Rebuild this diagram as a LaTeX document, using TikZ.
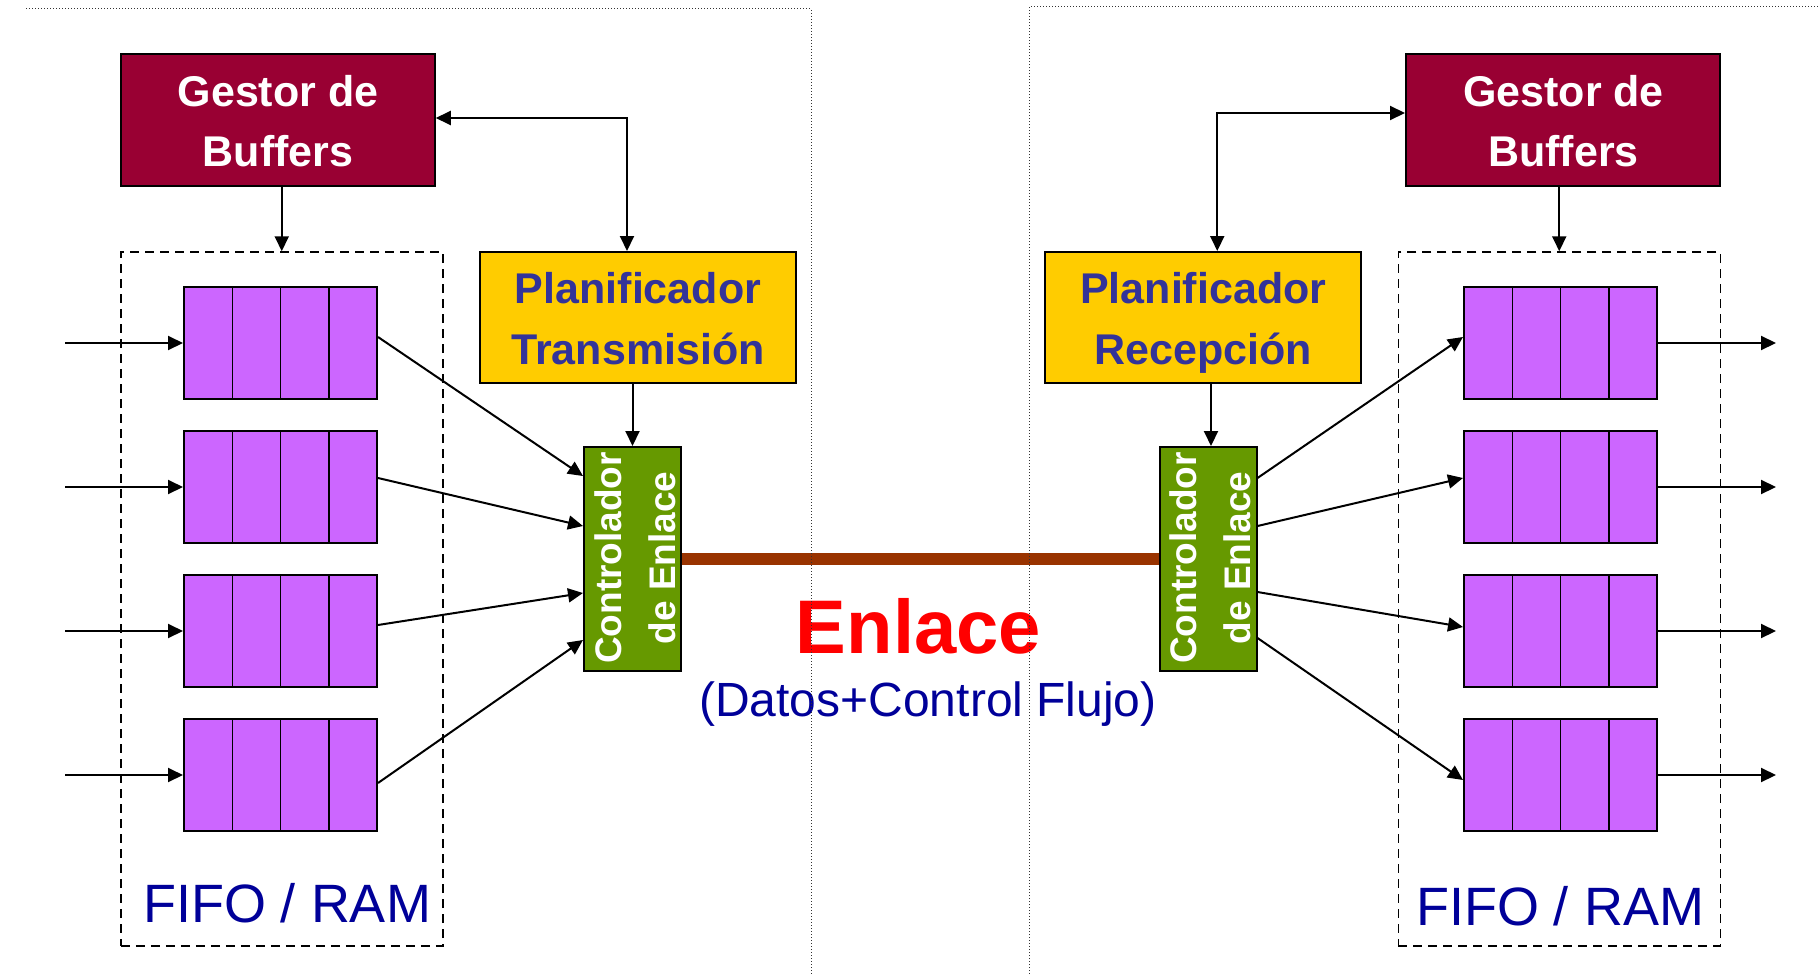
\documentclass[tikz,border=0pt]{standalone}
\usepackage{fontspec}
\setmainfont{Liberation Sans}
\usetikzlibrary{arrows.meta,calc}
\definecolor{gestorc}{HTML}{990033}
\definecolor{planc}{HTML}{FFCC00}
\definecolor{plantext}{HTML}{333399}
\definecolor{queuec}{HTML}{CC66FF}
\definecolor{ctrlc}{HTML}{669900}
\definecolor{linkc}{HTML}{993300}
\definecolor{navyc}{HTML}{000099}
\definecolor{enlacec}{HTML}{FF0000}
\newcommand\myfs[2]{\fontsize{#1}{#2}\selectfont}
\begin{document}
\begin{tikzpicture}[x=1pt,y=-1pt,
  box/.style={draw, line width=2pt, inner sep=0pt},
  gestor/.style={box, fill=gestorc, minimum width=314pt, minimum height=132pt},
  plan/.style={box, fill=planc, minimum width=316pt, minimum height=131pt},
  ctrl/.style={box, fill=ctrlc, minimum width=97pt, minimum height=224pt},
  memo/.style={draw, line width=1.5pt, dash pattern=on 9pt off 6pt, minimum width=322pt, minimum height=694pt, inner sep=0pt},
  queue/.style={box, fill=queuec, minimum width=193pt, minimum height=112pt,
    path picture={\foreach \f in {0.25,0.5,0.75}{\draw[line width=1.5pt] ($(path picture bounding box.north west)!\f!(path picture bounding box.north east)$) -- ($(path picture bounding box.south west)!\f!(path picture bounding box.south east)$);}}},
  arr/.style={line width=2pt, -{Triangle[length=15pt,width=14pt]}},
  biarr/.style={line width=2pt, {Triangle[length=15pt,width=14pt]}-{Triangle[length=15pt,width=14pt]}},
  gtext/.style={text=white, font=\bfseries\myfs{43}{60}, anchor=base, inner sep=0pt},
  ptext/.style={text=plantext, font=\bfseries\myfs{43}{60}, anchor=base, inner sep=0pt},
  ctext/.style={text=white, font=\bfseries\myfs{37}{44}, anchor=base, rotate=90, inner sep=0pt},
  fifotext/.style={text=navyc, font=\myfs{54}{60}, anchor=base, inner sep=0pt},
  linkline/.style={draw=linkc, line width=12.6pt},
  dotline/.style={line width=1pt, dash pattern=on 1pt off 2pt, draw=black!80}
]
\useasboundingbox (0,0) rectangle (1820,974);

% ---------- left side ----------
\node[gestor] (gL) at (277.75,120) {};
\node[gtext] (gLt1) at (278,106.7) {Gestor de};
\node[gtext] (gLt2) at (278,166.7) {Buffers};

\node[plan] (pL) at (638,317.5) {};
\node[ptext] (pLt1) at (638,303.3) {Planificador};
\node[ptext] (pLt2) at (638,364.3) {Transmisión};

\node[memo] (dL) at (281.75,599) {};
\node[fifotext] (fL) at (287,922) {FIFO / RAM};

\node[queue] (qL1) at (280.5,343) {};
\node[queue] (qL2) at (280.5,487) {};
\node[queue] (qL3) at (280.5,631) {};
\node[queue] (qL4) at (280.5,775) {};

\node[ctrl] (cL) at (632.5,559) {};
\node[ctext] (cLt1) at (621.7,558) {Controlador};
\node[ctext] (cLt2) at (675,558) {de Enlace};

% ---------- right side ----------
\node[gestor] (gR) at (1563,120) {};
\node[gtext] (gRt1) at (1563.5,106.7) {Gestor de};
\node[gtext] (gRt2) at (1563.5,166.7) {Buffers};

\node[plan] (pR) at (1203.25,317.5) {};
\node[ptext] (pRt1) at (1203.25,303.3) {Planificador};
\node[ptext] (pRt2) at (1203.25,364.3) {Recepción};

\node[memo] (dR) at (1559.25,599) {};
\node[fifotext] (fR) at (1560,925) {FIFO / RAM};

\node[queue] (qR1) at (1560.5,343) {};
\node[queue] (qR2) at (1560.5,487) {};
\node[queue] (qR3) at (1560.5,631) {};
\node[queue] (qR4) at (1560.5,775) {};

\node[ctrl] (cR) at (1208,559) {};
\node[ctext] (cRt1) at (1196.7,558) {Controlador};
\node[ctext] (cRt2) at (1250,558) {de Enlace};

% ---------- link ----------
\draw[linkline] (cL.east) -- (cR.west);
\node[text=enlacec, font=\bfseries\myfs{76}{80}, anchor=base, inner sep=0pt] (enl) at (918.5,653.3) {Enlace};
\node[text=navyc, font=\myfs{48}{52}, anchor=base, inner sep=0pt] (dat) at (928,716.5) {(Datos+Control Flujo)};

% ---------- connectors left ----------
\draw[arr] (dL.north |- gL.south) -- (dL.north);
\draw[biarr] ([yshift=2pt]gL.east) -| ([xshift=-11pt]pL.north);
\draw[arr] (cL.north |- pL.south) -- (cL.north);

\foreach \i in {1,2,3,4}{\coordinate (inL\i) at (65,{343+144*(\i-1)});}
\foreach \i in {1,2,3,4}{\draw[arr] (inL\i) -- (qL\i.west);}

\draw[arr] ([yshift=6pt]qL1.east) -- ([yshift=83pt]cL.west);
\draw[arr] ([yshift=9pt]qL2.east) -- ([yshift=33pt]cL.west);
\draw[arr] ([yshift=6pt]qL3.east) -- ([yshift=-34pt]cL.west);
\draw[arr] ([yshift=-8pt]qL4.east) -- ([yshift=-81pt]cL.west);

% ---------- connectors right ----------
\draw[arr] (dR.north |- gR.south) -- (dR.north);
\draw[biarr] ([yshift=7pt]gR.west) -| ([xshift=14pt]pR.north);
\draw[arr] ([xshift=3pt]cR.north |- pR.south) -- ([xshift=3pt]cR.north);

\foreach \i in {1,2,3,4}{\coordinate (outR\i) at (1776,{343+144*(\i-1)});}
\foreach \i in {1,2,3,4}{\draw[arr] (qR\i.east) -- (outR\i);}

\draw[arr] ([yshift=81pt]cR.east) -- ([yshift=6pt]qR1.west);
\draw[arr] ([yshift=33pt]cR.east) -- ([yshift=9pt]qR2.west);
\draw[arr] ([yshift=-33pt]cR.east) -- ([yshift=4pt]qR3.west);
\draw[arr] ([yshift=-79pt]cR.east) -- ([yshift=-5pt]qR4.west);

% ---------- dotted frames ----------
\draw[dotline] (26,9) -- (811,9) -- (811,974);
\draw[dotline] (1029,974) -- (1029,7) -- (1820,7);
\end{tikzpicture}
\end{document}
